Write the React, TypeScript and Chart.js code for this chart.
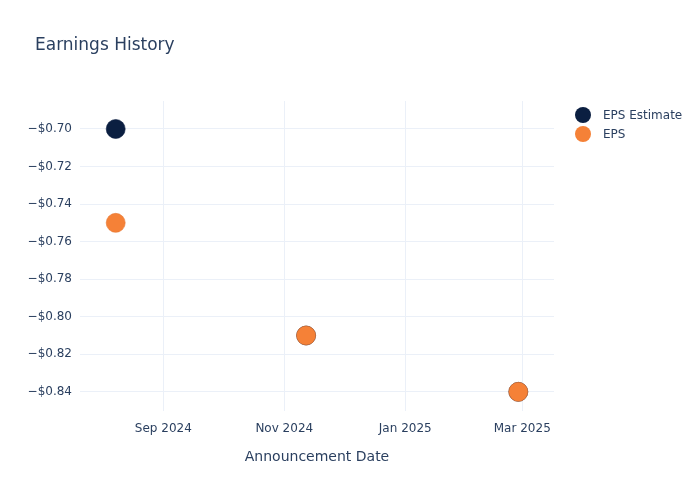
import React, { useEffect, useRef } from "react";
import { Chart, registerables } from "chart.js";

Chart.register(...registerables);

// announcement dates and values
const announceDates = ["2024-08-08", "2024-11-12", "2025-02-27"];
const epsEstimate = [-0.7, -0.81, -0.84];
const epsActual = [-0.75, -0.81, -0.84];
const xTickDates = ["2024-09-01", "2024-11-01", "2025-01-01", "2025-03-01"];
const yTickValues = [-0.84, -0.82, -0.8, -0.78, -0.76, -0.74, -0.72, -0.7];

const MONTHS = ["Jan", "Feb", "Mar", "Apr", "May", "Jun", "Jul", "Aug", "Sep", "Oct", "Nov", "Dec"];
const FONT = "'DejaVu Sans', sans-serif";
const TEXT = "#2a3f5f";
const NAVY = "#0b1f41";
const ORANGE = "#f58137";

const toTs = (s: string) => {
  const [y, m, d] = s.split("-").map(Number);
  return Date.UTC(y, m - 1, d);
};

const fmtMoney = (v: number) => (v < 0 ? "\u2212" : "") + "$" + Math.abs(v).toFixed(2);

export default function App() {
  const canvasRef = useRef<HTMLCanvasElement | null>(null);
  const chartRef = useRef<Chart | null>(null);

  useEffect(() => {
    if (!canvasRef.current) return;
    if (chartRef.current) {
      chartRef.current.destroy();
      chartRef.current = null;
    }
    const ctx = canvasRef.current.getContext("2d");
    if (!ctx) return;

    const xs = announceDates.map(toTs);

    chartRef.current = new Chart(ctx, {
      type: "scatter",
      data: {
        datasets: [
          {
            label: "EPS",
            data: xs.map((x, i) => ({ x, y: epsActual[i] })),
            backgroundColor: ORANGE,
            borderColor: "#e57630",
            borderWidth: 0.6,
            pointRadius: 9.5,
            order: 0,
          },
          {
            label: "EPS Estimate",
            data: xs.map((x, i) => ({ x, y: epsEstimate[i] })),
            backgroundColor: NAVY,
            borderColor: NAVY,
            borderWidth: 0.6,
            pointRadius: 9.5,
            order: 1,
          },
        ],
      },
      options: {
        animation: false,
        responsive: false,
        layout: { padding: { left: 0, top: 101, right: 146, bottom: 34 } },
        plugins: {
          legend: { display: false },
          title: { display: false },
          tooltip: { enabled: false },
        },
        scales: {
          x: {
            type: "linear",
            min: toTs("2024-07-21"),
            max: toTs("2025-03-17"),
            afterBuildTicks: (scale: any) => {
              scale.ticks = xTickDates.map((d) => ({ value: toTs(d) }));
            },
            border: { display: false },
            grid: { color: "#ebf0f8", lineWidth: 1, drawTicks: false },
            ticks: {
              padding: 11,
              maxRotation: 0,
              color: TEXT,
              font: { family: FONT, size: 12 },
              callback: (v: any) => {
                const d = new Date(Number(v));
                return MONTHS[d.getUTCMonth()] + " " + d.getUTCFullYear();
              },
            },
            title: {
              display: true,
              text: "Announcement Date",
              color: TEXT,
              font: { family: FONT, size: 14 },
              padding: { top: 2, bottom: 0 },
            },
          },
          y: {
            min: -0.8501,
            max: -0.6851,
            afterBuildTicks: (scale: any) => {
              scale.ticks = yTickValues.map((v) => ({ value: v }));
            },
            afterFit: (scale: any) => {
              scale.width = 80;
            },
            border: { display: false },
            grid: { color: "#ebf0f8", lineWidth: 1, drawTicks: false },
            ticks: {
              padding: 8,
              color: TEXT,
              font: { family: FONT, size: 12 },
              callback: (v: any) => fmtMoney(Number(v)),
            },
          },
        },
      },
    });

    return () => {
      if (chartRef.current) {
        chartRef.current.destroy();
        chartRef.current = null;
      }
    };
  }, []);

  const legendItems = [
    { label: "EPS Estimate", color: NAVY, top: 115 },
    { label: "EPS", color: ORANGE, top: 134 },
  ];

  return (
    <div style={{ position: "absolute", left: 0, top: 0, width: 700, height: 500, background: "#fff", fontFamily: FONT }}>
      <canvas ref={canvasRef} width={700} height={500} style={{ position: "absolute", left: 0, top: 0 }} />
      <div style={{ position: "absolute", left: 35, top: 34, fontSize: 17, color: TEXT, whiteSpace: "nowrap" }}>
        Earnings History
      </div>
      {legendItems.map((it) => (
        <div key={it.label} style={{ position: "absolute", left: 575, top: it.top - 8, height: 16, display: "flex", alignItems: "center" }}>
          <span style={{ width: 16, height: 16, borderRadius: "50%", background: it.color, display: "inline-block" }} />
          <span style={{ marginLeft: 12, fontSize: 12, color: TEXT, whiteSpace: "nowrap" }}>{it.label}</span>
        </div>
      ))}
    </div>
  );
}
